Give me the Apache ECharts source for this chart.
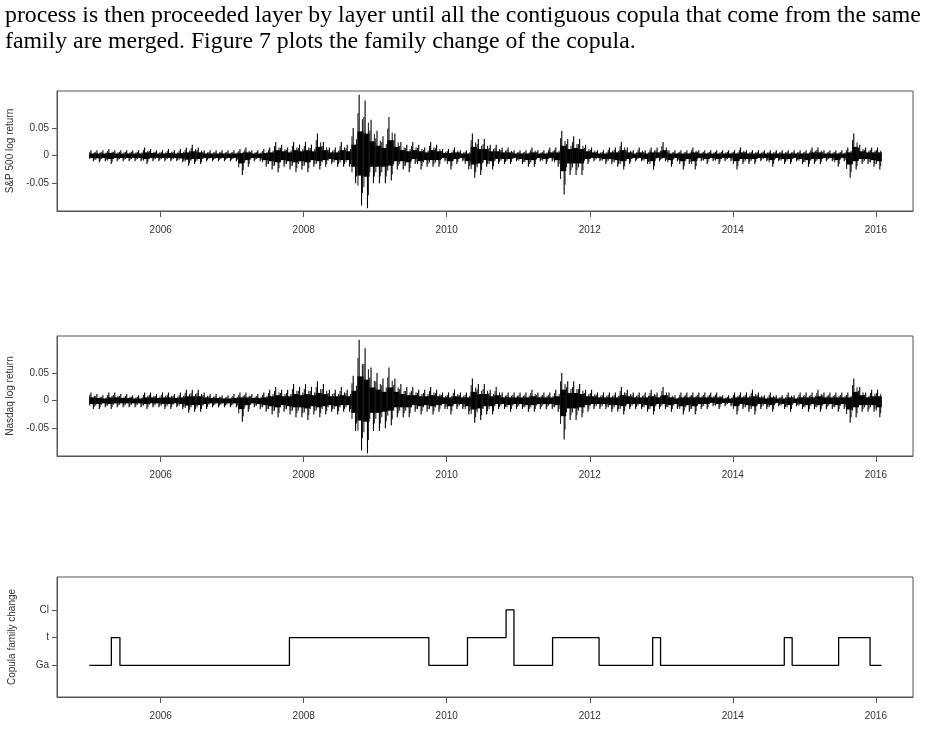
<!DOCTYPE html>
<html><head><meta charset="utf-8">
<script src="https://cdn.jsdelivr.net/npm/echarts@6/dist/echarts.min.js"></script>
<style>html,body{margin:0;padding:0;background:#fff}#c{width:930px;height:730px}</style>
</head><body><div id="c"></div>
<script>
// Monthly high / low of daily log returns (units of 0.01), Jan 2005 .. Jan 2016
const spHigh = [1.0,1.0,1.0,1.2,1.0,1.0,1.0,1.0,1.0,1.5,1.2,1.0, 1.0,1.2,1.0,1.2,1.5,2.0,1.5,1.0,1.0,1.0,1.0,1.0, 1.0,1.2,1.5,1.0,1.0,1.2,1.5,2.5,2.0,1.5,2.5,2.0, 2.5,2.0,4.0,2.5,1.5,1.5,2.5,2.0,5.0,11.0,10.0,6.5, 4.5,3.5,7.0,4.0,2.5,2.0,2.5,2.0,1.5,2.5,2.0,1.2, 1.2,1.5,1.0,1.0,4.0,3.0,3.0,2.0,2.0,1.5,1.5,1.0, 1.0,1.0,1.5,1.0,1.0,1.5,1.5,4.5,3.0,3.5,3.0,2.0, 1.5,1.0,1.0,1.5,1.5,2.5,1.5,1.0,1.5,1.0,1.5,1.5, 2.5,1.0,1.0,1.0,1.0,1.5,1.0,1.0,1.0,1.0,1.0,1.0, 1.0,1.5,1.0,1.0,1.0,1.0,1.0,1.0,1.0,1.0,1.0,1.0, 1.0,1.5,1.5,1.0,1.0,1.0,1.0,1.5,4.0,2.0,1.5,1.5, 1.5];
const spLow = [-1.0,-1.2,-1.0,-1.5,-1.0,-1.0,-1.0,-1.0,-1.0,-1.5,-1.0,-1.0, -1.0,-1.0,-1.0,-1.2,-1.8,-1.5,-1.5,-1.0,-1.0,-1.0,-1.0,-1.0, -1.0,-3.5,-2.0,-1.0,-1.0,-2.0,-2.5,-3.0,-2.0,-2.5,-3.0,-2.5, -3.0,-2.0,-2.5,-2.0,-1.5,-2.0,-2.0,-2.0,-5.0,-9.0,-9.5,-5.0, -5.0,-5.0,-4.5,-2.5,-2.5,-3.0,-1.5,-2.5,-2.0,-2.0,-2.0,-1.0, -2.5,-1.5,-1.0,-2.5,-4.0,-3.5,-2.0,-2.5,-1.5,-1.5,-1.5,-1.0, -1.5,-2.0,-2.0,-1.0,-1.5,-1.0,-2.0,-7.0,-3.5,-3.5,-3.5,-1.5, -1.0,-1.0,-1.5,-1.5,-2.0,-2.5,-1.5,-1.0,-1.0,-1.5,-2.5,-1.0, -1.0,-2.0,-1.0,-2.5,-1.5,-2.5,-1.0,-1.5,-1.0,-1.5,-1.0,-1.0, -2.5,-1.5,-1.5,-1.5,-1.0,-1.0,-2.0,-1.0,-1.5,-1.5,-1.0,-1.5, -2.0,-1.5,-1.5,-1.0,-1.0,-2.0,-1.0,-4.0,-2.5,-1.5,-1.5,-2.0, -2.5];
const nqHigh = [1.5,1.2,1.0,1.5,1.5,1.2,1.2,1.0,1.0,1.5,1.5,1.2, 1.5,1.5,1.2,1.5,2.0,2.0,2.0,1.5,1.2,1.2,1.0,1.0, 1.2,1.5,1.5,1.2,1.2,1.5,2.0,2.5,2.0,2.0,3.0,2.5, 3.0,2.5,3.5,3.0,2.0,2.0,2.5,2.0,4.5,11.0,9.5,6.0, 5.0,4.0,6.0,4.0,3.0,2.5,2.5,2.0,2.0,2.5,2.0,1.5, 1.5,2.0,1.5,1.5,4.0,3.0,3.0,2.0,2.5,1.5,1.5,1.5, 1.5,1.5,2.0,1.5,1.5,1.5,2.0,5.0,3.5,3.5,3.0,2.0, 2.0,1.5,1.5,1.5,1.5,2.5,2.0,1.5,1.5,1.5,2.0,1.5, 2.5,1.5,1.0,1.5,1.5,1.5,1.5,1.5,1.5,1.5,1.0,1.0, 1.5,1.5,1.5,2.0,1.5,1.0,1.5,1.0,1.0,1.5,1.0,1.5, 1.5,1.5,2.0,1.5,1.5,1.5,1.5,1.5,4.0,2.5,1.5,2.0, 2.0];
const nqLow = [-1.5,-1.5,-1.2,-1.5,-1.2,-1.2,-1.2,-1.2,-1.2,-1.5,-1.2,-1.2, -1.5,-1.5,-1.2,-1.5,-2.2,-2.0,-2.0,-1.5,-1.2,-1.2,-1.2,-1.2, -1.2,-3.8,-2.0,-1.2,-1.5,-2.0,-2.5,-3.0,-2.0,-2.5,-3.0,-3.0, -3.5,-2.5,-3.0,-2.5,-2.0,-2.5,-2.0,-2.0,-5.5,-9.0,-9.5,-5.5, -5.5,-5.0,-4.5,-3.0,-3.0,-3.0,-2.0,-2.5,-2.0,-2.5,-2.0,-1.5, -2.5,-1.5,-1.5,-2.5,-4.0,-3.5,-2.5,-2.5,-1.5,-1.5,-2.0,-1.5, -1.5,-2.0,-2.0,-1.5,-1.5,-1.5,-2.0,-7.0,-3.5,-3.5,-3.0,-2.0, -1.5,-1.5,-1.5,-2.0,-2.0,-2.5,-1.5,-1.5,-1.5,-2.0,-2.5,-1.5, -1.5,-2.0,-1.5,-2.5,-2.0,-2.5,-1.5,-1.5,-1.0,-1.5,-1.0,-1.0, -2.5,-1.5,-2.0,-2.5,-1.5,-1.5,-2.0,-1.0,-1.5,-2.0,-1.0,-1.5, -2.0,-1.5,-2.0,-1.5,-1.5,-2.0,-1.5,-4.0,-3.0,-2.0,-2.0,-2.0, -3.0];
// Copula family regimes: start time and family code (0 = Ga, 1 = t, 2 = Cl)
const copStart = [2005.00,2005.31,2005.43,2007.80,2009.75,2010.29,2010.83,2010.94,2011.48,2012.13,2012.88,2012.99,2014.72,2014.83,2015.48,2015.92,2016.08];
const copFamily = [0,1,0,1,0,1,2,0,1,0,1,0,1,0,1,0,0];
const copLabels = ['Ga','t','Cl'];
const yearTicks = [2006,2008,2010,2012,2014,2016];
const retTicks = [-0.05,0,0.05];

// one record per month: [start, end, low, high]
function months(hi, lo){
  return hi.map((h,i)=>[2005+i/12, 2005+(i+1)/12 - (i===hi.length-1?0.003:0), lo[i]/100, h/100]);
}
function renderBand(params, api){
  const p0 = api.coord([api.value(0), api.value(3)]);
  const p1 = api.coord([api.value(1), api.value(2)]);
  const mid = api.coord([(api.value(0)+api.value(1))/2, 0]);
  const w = p1[0]-p0[0];
  const up = mid[1]-p0[1], dn = p1[1]-mid[1];
  return {type:'group',children:[
    {type:'rect',shape:{x:p0[0],y:mid[1]-up*0.4,width:w+0.3,height:(up+dn)*0.4},style:{fill:'#000'}},
    {type:'line',shape:{x1:p0[0]+w*0.3,y1:p0[1],x2:p0[0]+w*0.3,y2:mid[1]},style:{stroke:'#000',lineWidth:1.1}},
    {type:'line',shape:{x1:p0[0]+w*0.7,y1:mid[1],x2:p0[0]+w*0.7,y2:p1[1]},style:{stroke:'#000',lineWidth:1.1}},
    {type:'line',shape:{x1:p0[0]+w*0.1,y1:mid[1]-up*0.7,x2:p0[0]+w*0.1,y2:mid[1]+dn*0.6},style:{stroke:'#111',lineWidth:1}},
    {type:'line',shape:{x1:p0[0]+w*0.85,y1:mid[1]-up*0.6,x2:p0[0]+w*0.85,y2:mid[1]+dn*0.75},style:{stroke:'#111',lineWidth:1}}
  ]};
}
const copData = copStart.map((s,i)=>[s,copFamily[i]]);

const lab = {color:'#333',fontSize:10,fontFamily:'Liberation Sans'};
const grids = [{top:91},{top:336},{top:577}]
  .map(g=>Object.assign(g,{left:57,right:17,height:120,containLabel:false,outerBoundsMode:'none',show:true,borderColor:'#555',borderWidth:1}));
function xa(i){return {type:'value',gridIndex:i,min:2004.55,max:2016.52,
  axisLine:{show:true,onZero:false,lineStyle:{color:'#555'}},splitLine:{show:false},
  axisTick:{show:true,inside:false,length:6,lineStyle:{color:'#555'},customValues:yearTicks},
  axisLabel:Object.assign({margin:14,customValues:yearTicks,formatter:v=>String(Math.round(v))},lab)};}
function ya(i,name,min,max,vals,fmt){return {type:'value',gridIndex:i,min:min,max:max,name:name,nameLocation:'middle',nameGap:40,
  nameTextStyle:{color:'#333',fontSize:10,fontFamily:'Liberation Sans'},
  axisLine:{show:true,onZero:false,lineStyle:{color:'#555'}},splitLine:{show:false},
  axisTick:{show:true,length:5,lineStyle:{color:'#555'},customValues:vals},
  axisLabel:Object.assign({margin:8,customValues:vals,formatter:fmt},lab)};}
const retFmt = v=>Math.abs(v)<1e-9?'0':(v>0?'0.05':'-0.05');
const ts = {fontFamily:'Liberation Serif',fontWeight:'normal',fontSize:23.8,color:'#000'};

const chart = echarts.init(document.getElementById('c'),null,{renderer:'canvas'});
chart.setOption({
  animation:false,
  title:[{text:'process is then proceeded layer by layer until all the contiguous copula that come from the same',left:5,top:-1,padding:[5,0,5,0],textStyle:ts},
         {text:'family are merged. Figure 7 plots the family change of the copula.',left:5,top:25,padding:[5,0,5,0],textStyle:ts}],
  grid:grids,
  xAxis:[xa(0),xa(1),xa(2)],
  yAxis:[ya(0,'S&P 500 log return',-0.1,0.117,retTicks,retFmt),
         ya(1,'Nasdaq log return',-0.1,0.117,retTicks,retFmt),
         ya(2,'Copula family change',-1.14,3.18,[0,1,2],v=>copLabels[Math.round(v)])],
  series:[
    {type:'custom',xAxisIndex:0,yAxisIndex:0,data:months(spHigh,spLow),renderItem:renderBand,encode:{x:[0,1],y:[2,3]}},
    {type:'custom',xAxisIndex:1,yAxisIndex:1,data:months(nqHigh,nqLow),renderItem:renderBand,encode:{x:[0,1],y:[2,3]}},
    {type:'line',xAxisIndex:2,yAxisIndex:2,data:copData,step:'end',showSymbol:false,lineStyle:{color:'#000',width:1.3}}
  ]
});
</script></body></html>
